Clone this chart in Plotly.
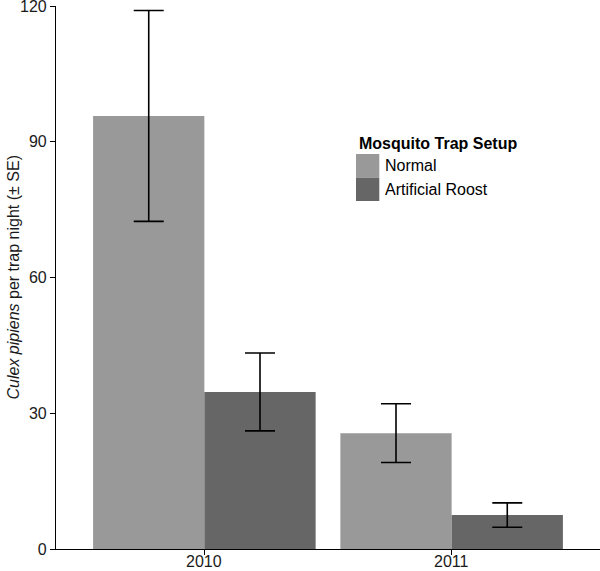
import plotly.graph_objects as go

years = ["2010", "2011"]
setups = ["Normal", "Artificial Roost"]
normal_mean = [95.7, 25.6]
normal_se = [23.3, 6.5]
roost_mean = [34.7, 7.5]
roost_se = [8.6, 2.7]
colors = ["#999999", "#666666"]
y_ticks = [0, 30, 60, 90, 120]

W, H = 600, 571
L, R, T, B = 56, 0, 6, 22
pw, ph = W - L - R, H - T - B

def px(x):
    return (x - L) / pw

def py(y):
    return (H - B - y) / ph

fig = go.Figure()
for name, mean, se, col in [(setups[0], normal_mean, normal_se, colors[0]),
                            (setups[1], roost_mean, roost_se, colors[1])]:
    fig.add_trace(go.Bar(
        x=years, y=mean, name=name, marker=dict(color=col, line=dict(width=0)),
        error_y=dict(type="data", array=se, visible=True, color="black",
                     thickness=1.6, width=15),
        showlegend=False, cliponaxis=False,
    ))

font = "Liberation Sans, Arial, Helvetica, sans-serif"
fig.update_layout(
    width=W, height=H,
    margin=dict(l=L, r=R, t=T, b=B, pad=0, autoexpand=False),
    plot_bgcolor="white", paper_bgcolor="white",
    barmode="group", bargap=0.1, bargroupgap=0,
    font=dict(family=font, size=16, color="#1a1a1a"),
    xaxis=dict(type="category", range=[-0.6, 1.6], showline=True, linecolor="black",
               linewidth=1.2, ticks="outside", ticklen=5, tickcolor="black", tickwidth=1.2,
               showgrid=False, zeroline=False, showticklabels=False,
               automargin=False),
    yaxis=dict(range=[0, 120], tickvals=y_ticks, showline=True, linecolor="black",
               linewidth=1.2, ticks="outside", ticklen=5, tickcolor="black", tickwidth=1.2,
               showgrid=False, zeroline=False, tickfont=dict(size=16),
               automargin=False, ticklabeloverflow="allow"),
)

# x tick labels as annotations (placed like the reference)
for i, yr in enumerate(years):
    fig.add_annotation(x=i, y=py(561.5), xref="x", yref="paper", text=yr,
                       showarrow=False, xanchor="center", yanchor="middle",
                       font=dict(size=16, color="#1a1a1a"))

# y axis title as rotated annotation
fig.add_annotation(x=px(13), y=0.5, xref="paper", yref="paper",
                   text="<i>Culex pipiens</i> per trap night (± SE)", textangle=-90,
                   showarrow=False, xanchor="center", yanchor="middle",
                   font=dict(size=16, color="#1a1a1a"))

# legend drawn manually
fig.add_annotation(x=px(356.5), y=py(143), xref="paper", yref="paper",
                   text="<b>Mosquito Trap Setup</b>", showarrow=False,
                   xanchor="left", yanchor="middle", font=dict(size=16, color="black"))
keys = [(154, 177.7), (177.7, 201)]
for (y0, y1), col, name in zip(keys, colors, setups):
    fig.add_shape(type="rect", xref="paper", yref="paper",
                  x0=px(356), x1=px(379.3), y0=py(y1), y1=py(y0),
                  fillcolor=col, line=dict(width=0))
    fig.add_annotation(x=px(382.5), y=py((y0 + y1) / 2), xref="paper", yref="paper",
                       text=name, showarrow=False, xanchor="left", yanchor="middle",
                       font=dict(size=16, color="black"))

fig.write_html(
    "out.html",
    config={"displayModeBar": False},
    post_script="document.body.style.margin='0';document.body.style.padding='0';"
                "document.body.style.overflow='hidden';",
)
